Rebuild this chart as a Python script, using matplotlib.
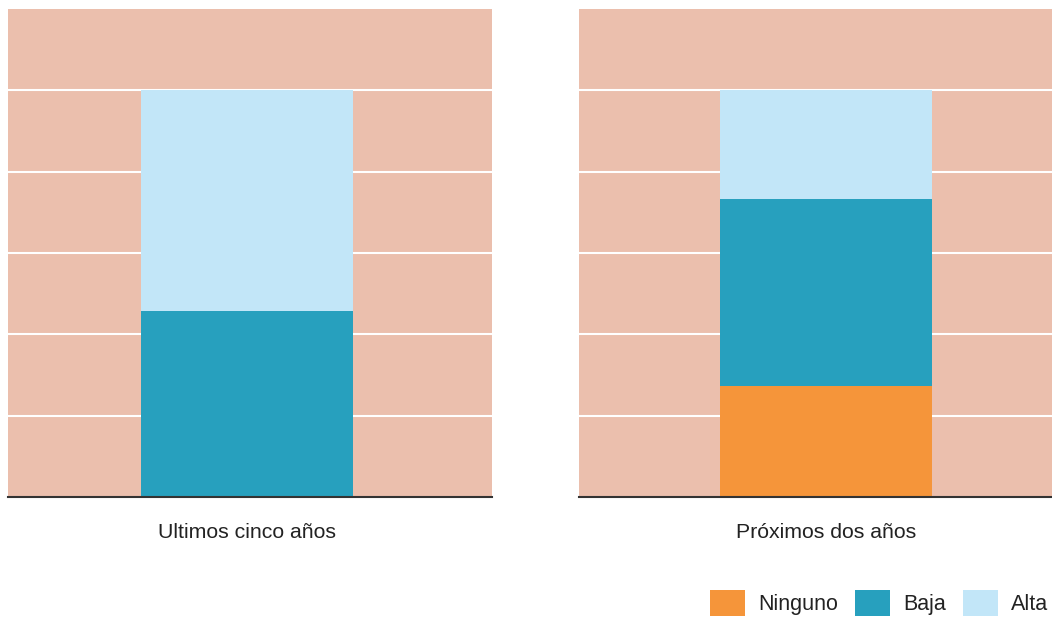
import matplotlib.pyplot as plt
from matplotlib.patches import Patch

plt.rcParams['font.family'] = ['Liberation Sans', 'DejaVu Sans']

# data (% of respondents)
periods = ['Ultimos cinco años', 'Próximos dos años']
series = ['Ninguno', 'Baja', 'Alta']
ninguno = [0.0, 27.2]
baja = [45.7, 46.2]
alta = [54.3, 26.6]
yticks = [20, 40, 60, 80, 100]

colors = {'Ninguno': '#F5953A', 'Baja': '#27A0BE', 'Alta': '#C2E6F8'}
bg = '#EBBFAD'

fig = plt.figure(figsize=(10.52, 6.18), dpi=100)
ax_pos = [[8 / 1052, 121 / 618, 484 / 1052, 488 / 618],
          [579 / 1052, 121 / 618, 473 / 1052, 488 / 618]]
xlims = [(-1.127, 1.156), (-1.165, 1.066)]

for i, label in enumerate(periods):
    ax = fig.add_axes(ax_pos[i])
    ax.set_facecolor(bg)
    vals = {'Ninguno': ninguno[i], 'Baja': baja[i], 'Alta': alta[i]}
    bottom = 0
    for s in series:
        ax.bar(0, vals[s], width=1.0, bottom=bottom, color=colors[s], zorder=2)
        bottom += vals[s]
    ax.set_ylim(0, 120)
    ax.set_xlim(*xlims[i])
    ax.set_yticks(yticks)
    ax.yaxis.grid(True, color='white', linewidth=1.5, zorder=1)
    ax.set_axisbelow(True)
    ax.tick_params(left=False, labelleft=False, bottom=False)
    ax.set_xticks([0])
    ax.set_xticklabels([label], fontsize=15.3, color='#222222')
    ax.tick_params(axis='x', pad=15)
    for sp in ['top', 'left', 'right']:
        ax.spines[sp].set_visible(False)
    ax.spines['bottom'].set_color('#333333')
    ax.spines['bottom'].set_linewidth(1.5)
    ax.spines['bottom'].set_zorder(3)

handles = [Patch(facecolor=colors[s], edgecolor='none') for s in series]
fig.legend(handles, series, loc='lower right', bbox_to_anchor=(0.996, 0.004),
           ncol=3, frameon=False, fontsize=15.5, handlelength=1.62,
           handleheight=1.45, handletextpad=0.6, columnspacing=0.8,
           borderpad=0.0, borderaxespad=0.0, labelcolor='#222222')

fig.savefig('out.png', dpi=100)
